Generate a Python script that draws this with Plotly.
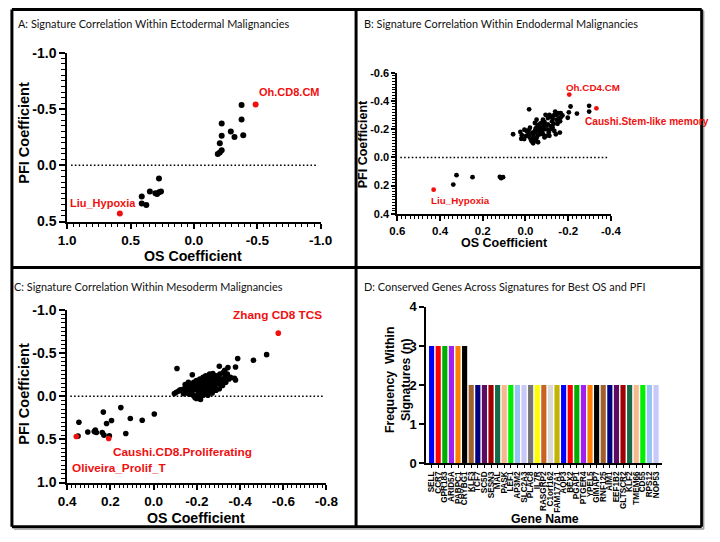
import plotly.graph_objects as go

# ---------------- DATA ----------------
# Panel A (Ectodermal)
a_os = [-0.376, -0.376, -0.389, -0.291, -0.320, -0.219, -0.219, -0.204, -0.219, -0.204, -0.188,
        0.276, 0.260, 0.276, 0.291, 0.304, 0.348, 0.412, 0.412, 0.376]
a_pfi = [-0.534, -0.405, -0.267, -0.299, -0.250, -0.371, -0.261, -0.195, -0.132, -0.112, -0.100,
         0.118, 0.233, 0.241, 0.256, 0.250, 0.233, 0.279, 0.339, 0.353]
a_hl_names = ["Oh.CD8.CM", "Liu_Hypoxia"]
a_hl_os = [-0.487, 0.585]
a_hl_pfi = [-0.540, 0.428]

# Panel B (Endodermal)
b_os = [-0.298, -0.298, -0.241, -0.211, -0.203, -0.198, -0.161, -0.017,
        0.338, 0.323, 0.248, 0.120, 0.114, 0.105,
        0.058, 0.024, 0.020, 0.017, 0.005, -0.006, -0.014, -0.018, -0.024, -0.029, -0.036, -0.044,
        -0.052, -0.059, -0.036, -0.044, -0.048, -0.056, -0.064, -0.070, -0.077, -0.082, -0.089,
        -0.067, -0.074, -0.082, -0.089, -0.097, -0.102, -0.109, -0.112, -0.120, -0.124, -0.127,
        -0.135, -0.139, -0.145, -0.150, -0.158, -0.165, -0.162, -0.105, -0.094, -0.112, -0.120,
        -0.127, -0.135, -0.142, -0.097, -0.085, -0.076, -0.062, -0.048, -0.032, -0.021, -0.014,
        -0.003, 0.006, -0.036, -0.056, -0.067, -0.089, -0.105, -0.117, -0.132, -0.145, -0.155,
        -0.165, -0.173, -0.044, -0.052]
b_pfi = [-0.367, -0.326, -0.312, -0.362, -0.321, -0.282, -0.177, -0.342,
         0.193, 0.126, 0.140, 0.138, 0.147, 0.140,
         -0.165, -0.181, -0.133, -0.158, -0.197, -0.188, -0.165, -0.147, -0.131, -0.115, -0.101, -0.119,
         -0.138, -0.108, -0.165, -0.188, -0.206, -0.222, -0.234, -0.211, -0.188, -0.165, -0.142,
         -0.165, -0.245, -0.268, -0.252, -0.229, -0.200, -0.177, -0.154, -0.222, -0.257, -0.280,
         -0.303, -0.326, -0.268, -0.239, -0.280, -0.314, -0.257, -0.280, -0.303, -0.303, -0.291,
         -0.211, -0.188, -0.165, -0.154, -0.222, -0.211, -0.200, -0.181, -0.177, -0.211, -0.193,
         -0.154, -0.131, -0.138, -0.154, -0.188, -0.200, -0.234, -0.200, -0.239, -0.303, -0.314,
         -0.284, -0.298, -0.245, -0.268]
b_hl_names = ["Oh.CD4.CM", "Caushi.Stem-like memory", "Liu_Hypoxia"]
b_hl_os = [-0.205, -0.332, 0.430]
b_hl_pfi = [-0.447, -0.349, 0.229]

# Panel C (Mesoderm)
c_os = [-0.523, -0.462, -0.389, -0.379, -0.374, -0.379, -0.344, -0.329, -0.304, -0.108, -0.179,
        0.346, 0.350, 0.305, 0.275, 0.270, 0.265, 0.233, 0.218, 0.195, 0.238, 0.230, 0.205,
        0.152, 0.108, 0.129, 0.053, -0.003,
        -0.096, -0.105, -0.116, -0.123, -0.131, -0.138, -0.146, -0.153, -0.158, -0.164, -0.168,
        -0.171, -0.176, -0.180, -0.183, -0.186, -0.191, -0.194, -0.198, -0.202, -0.206, -0.209,
        -0.214, -0.217, -0.221, -0.224, -0.229, -0.232, -0.235, -0.238, -0.241, -0.244, -0.247,
        -0.250, -0.253, -0.256, -0.259, -0.262, -0.266, -0.269, -0.274, -0.277, -0.281, -0.286,
        -0.289, -0.293, -0.296, -0.301, -0.304, -0.307, -0.311, -0.316, -0.319, -0.322, -0.326,
        -0.331, -0.334, -0.341, -0.349, -0.356, -0.191, -0.183, -0.198, -0.217, -0.229, -0.244,
        -0.251, -0.271, -0.274, -0.138, -0.150, -0.165, -0.176, -0.214, -0.221, -0.236, -0.259,
        -0.146, -0.161, -0.203, -0.251, -0.289, -0.304, -0.266, -0.229, -0.244]
c_pfi = [-0.481, -0.417, -0.436, -0.338, -0.207, -0.188, -0.331, -0.301, -0.346, -0.320, -0.248,
         0.301, 0.462, 0.414, 0.410, 0.391, 0.421, 0.184, 0.316, 0.282, 0.421, 0.451, 0.459,
         0.132, 0.259, 0.432, 0.278, 0.207,
         -0.030, -0.045, -0.060, -0.075, -0.068, -0.083, -0.075, -0.098, -0.060, -0.113, -0.086,
         -0.143, -0.060, -0.124, -0.098, -0.162, -0.075, -0.135, -0.180, -0.105, -0.060, -0.150,
         -0.199, -0.124, -0.098, -0.173, -0.218, -0.143, -0.075, -0.188, -0.237, -0.162, -0.105,
         -0.211, -0.143, -0.086, -0.256, -0.180, -0.124, -0.218, -0.263, -0.162, -0.105, -0.199,
         -0.237, -0.143, -0.180, -0.218, -0.086, -0.256, -0.162, -0.199, -0.124, -0.274, -0.180,
         -0.226, -0.162, -0.256, -0.199, -0.218, 0.015, -0.011, 0.026, 0.038, -0.011, -0.030,
         -0.049, -0.038, -0.060, -0.030, -0.038, -0.023, -0.030, -0.049, -0.011, -0.060, -0.049,
         -0.135, -0.162, -0.011, -0.011, -0.068, -0.150, -0.075, -0.105, -0.124]
c_hl_names = ["Zhang CD8 TCS", "Caushi.CD8.Proliferating", "Oliveira_Prolif_T"]
c_hl_os = [-0.577, 0.208, 0.358]
c_hl_pfi = [-0.730, 0.489, 0.466]

# Panel D (conserved genes)
genes = ["SELL", "CCR7", "GPR183", "ARID5A", "PABPC1", "CRYBG1", "KLF3", "TCF7", "SC5D", "SESN3",
         "MAL", "PASK", "LEF1", "AP3M2", "SLC2A3", "PLAC8", "IL7R", "RASGRP2", "C1orf162", "FAM177A1",
         "AQP3", "BEX2", "PGAP1", "PTGER4", "YPEL5", "GIMAP7", "RNF125", "AIM1", "EEF1B2", "GLTSCR2",
         "KLF2", "TMEM66", "CD55", "RPS12", "NOP53"]
freq = [3, 3, 3, 3, 3, 3] + [2] * 29
palette = ["#0000FF", "#FF0000", "#00B000", "#A020F0", "#FF8000", "#000000", "#A0602D", "#000080",
           "#5E0A63", "#A00000", "#146B48", "#F6B98C", "#00F000", "#99C2F5", "#C8C8FA", "#767676",
           "#FFFF00", "#C8641E", "#D9D9D9", "#C2B400"]

# tick labels
ticks_a_x = [1.0, 0.5, 0.0, -0.5, -1.0]
ticks_a_y = [-1.0, -0.5, 0.0, 0.5]
ticks_b_x = [0.6, 0.4, 0.2, 0.0, -0.2, -0.4]
ticks_b_y = [-0.6, -0.4, -0.2, 0.0, 0.2, 0.4]
ticks_c_x = [0.4, 0.2, 0.0, -0.2, -0.4, -0.6, -0.8]
ticks_c_y = [-1.0, -0.5, 0.0, 0.5, 1.0]
ticks_d_y = [0, 1, 2, 3, 4]


def lab(v):
    s = "%.1f" % abs(v)
    return ("-" + s) if v < -1e-9 else s


W, H = 720, 542
def PX(p):
    return p / W
def PY(p):
    return 1 - p / H

BOLD = "Liberation Sans"
RED = "#F01010"
CLEAR = "rgba(0,0,0,0)"

fig = go.Figure()

def scatter(xs, ys, xa, ya, color, size):
    fig.add_trace(go.Scatter(x=xs, y=ys, mode="markers", xaxis=xa, yaxis=ya,
                             marker=dict(color=color, size=size, line=dict(width=0)),
                             showlegend=False, hoverinfo="skip"))

scatter(a_os, a_pfi, "x", "y", "black", 6)
scatter(a_hl_os, a_hl_pfi, "x", "y", RED, 6)
scatter(b_os, b_pfi, "x2", "y2", "black", 4.8)
scatter(b_hl_os, b_hl_pfi, "x2", "y2", RED, 4.8)
scatter(c_os, c_pfi, "x3", "y3", "black", 5.6)
scatter(c_hl_os, c_hl_pfi, "x3", "y3", RED, 5.6)

fig.add_trace(go.Bar(x=genes, y=freq, xaxis="x4", yaxis="y4",
                     marker=dict(color=[palette[i % len(palette)] for i in range(len(genes))],
                                 line=dict(width=0)),
                     showlegend=False, hoverinfo="skip"))


def num_axis(domain, rng, tvals, fsize, anchor, mdt, tlen=6, mlen=4):
    return dict(domain=domain, range=rng, anchor=anchor, showgrid=False, zeroline=False,
                showline=True, linecolor="black", linewidth=2,
                ticks="outside", ticklen=tlen, tickwidth=2, tickcolor="black",
                tickmode="array", tickvals=tvals, ticktext=[lab(v) for v in tvals],
                tickfont=dict(family=BOLD, size=fsize, color="black", weight="bold"),
                minor=dict(ticks="outside", dtick=mdt, ticklen=mlen, tickwidth=1.4,
                           tickcolor="black"))


layout = dict(width=W, height=H, margin=dict(l=0, r=0, t=0, b=0),
              paper_bgcolor="white", plot_bgcolor=CLEAR, bargap=0.22)

layout["xaxis"] = num_axis([PX(60), PX(321)], [1.0, -1.0], ticks_a_x, 13.5, "y", 0.05, 5, 3.5)
layout["yaxis"] = num_axis([PY(220), PY(46)], [0.5, -1.0], ticks_a_y, 14, "x", 0.05)
layout["xaxis2"] = num_axis([PX(400), PX(620)], [0.6, -0.4], ticks_b_x, 11.5, "y2", 0.02, 5, 3)
layout["yaxis2"] = num_axis([PY(212), PY(67)], [0.4, -0.6], ticks_b_y, 11, "x2", 0.02, 4, 3)
layout["xaxis3"] = num_axis([PX(60), PX(327)], [0.4, -0.8], ticks_c_x, 13.5, "y3", 0.02, 5, 3.5)
layout["yaxis3"] = num_axis([PY(489), PY(311)], [1.0, -1.0], ticks_c_y, 14, "x3", 0.05)

layout["xaxis4"] = dict(domain=[PX(430), PX(673)], range=[-0.78, 34.96], anchor="y4",
                        type="category", showgrid=False, showline=True, linecolor="black",
                        linewidth=2, ticks="outside", ticklen=3, tickwidth=1.2,
                        tickcolor="black", tickangle=-90, tickmode="array",
                        tickvals=genes, ticktext=genes,
                        tickfont=dict(family=BOLD, size=8.2, color="black", weight="bold"))
layout["yaxis4"] = dict(domain=[PY(469), PY(308)], range=[0, 4], anchor="x4", showgrid=False,
                        zeroline=False, showline=True, linecolor="black", linewidth=2,
                        ticks="outside", ticklen=5, tickwidth=2, tickcolor="black",
                        tickmode="array", tickvals=ticks_d_y, ticktext=[str(v) for v in ticks_d_y],
                        tickfont=dict(family=BOLD, size=13, color="black", weight="bold"))

shapes = []
# dotted zero lines
for xr, yr, x0, x1 in [("x", "y", 0.97, -0.98), ("x2", "y2", 0.586, -0.39), ("x3", "y3", 0.386, -0.79)]:
    shapes.append(dict(type="line", xref=xr, yref=yr, x0=x0, x1=x1, y0=0, y1=0, layer="below",
                       line=dict(color="black", width=1.6, dash="1.6px,2.2px")))
# panel frames
frame = dict(color="black", width=3)
for x0, y0, x1, y1 in [(3, 1.5, 713.5, 1.5), (3, 534.5, 713.5, 534.5), (3, 1.5, 3, 534.5),
                       (713.5, 1.5, 713.5, 534.5), (357.5, 1.5, 357.5, 534.5),
                       (3, 267.5, 713.5, 267.5)]:
    shapes.append(dict(type="line", xref="paper", yref="paper", x0=PX(x0), x1=PX(x1),
                       y0=PY(y0), y1=PY(y1), line=frame))
shapes.append(dict(type="line", xref="paper", yref="paper", x0=PX(715.5), x1=PX(715.5),
                   y0=PY(537), y1=PY(3), line=dict(color="#9a9a9a", width=1.5)))
shapes.append(dict(type="line", xref="paper", yref="paper", x0=PX(5), x1=PX(715.5),
                   y0=PY(536.8), y1=PY(536.8), line=dict(color="#9a9a9a", width=1.5)))
layout["shapes"] = shapes

ann = []
TITLE_FONT = dict(family="Lato", size=10.9, color="#111111")
for txt, x, y in [("A: Signature Correlation Within Ectodermal Malignancies", 8, 15.5),
                  ("B: Signature Correlation Within Endodermal Malignancies", 365, 15.5),
                  ("C: Signature Correlation Within Mesoderm Malignancies", 4.5, 286.5),
                  ("D: Conserved Genes Across Signatures for Best OS and PFI", 365, 286.5)]:
    ann.append(dict(text=txt, xref="paper", yref="paper", x=PX(x), y=PY(y), xanchor="left",
                    yanchor="middle", showarrow=False, font=TITLE_FONT, bgcolor=CLEAR,
                    borderpad=0))

def axtitle(txt, x, y, size, angle=0):
    ann.append(dict(text=txt, xref="paper", yref="paper", x=PX(x), y=PY(y), xanchor="center",
                    yanchor="middle", showarrow=False, textangle=angle, bgcolor=CLEAR,
                    borderpad=0,
                    font=dict(family=BOLD, size=size, color="black", weight="bold")))

axtitle("PFI Coefficient", 16, 129, 14.5, -90)
axtitle("OS Coefficient", 190, 256, 14.2)
axtitle("PFI Coefficient", 365, 140, 12.5, -90)
axtitle("OS Coefficient", 510, 242, 12.5)
axtitle("PFI Coefficient", 16, 398, 14.5, -90)
axtitle("OS Coefficient", 193, 525, 14.2)
axtitle("Frequency  Within<br>Signatures (n)", 400, 383, 12.3, -90)
axtitle("Gene Name", 552, 527, 12.3)

def redlabel(txt, xr, yr, x, y, size, anchor="center"):
    ann.append(dict(text=txt, xref=xr, yref=yr, x=x, y=y, xanchor=anchor, yanchor="middle",
                    showarrow=False, bgcolor=CLEAR, borderpad=0,
                    font=dict(family=BOLD, size=size, color=RED, weight="bold")))

redlabel(a_hl_names[0], "x", "y", -0.755, -0.647, 11)
redlabel(a_hl_names[1], "x", "y", 0.716, 0.336, 11)
redlabel(b_hl_names[0], "x2", "y2", -0.318, -0.497, 9.8)
redlabel(b_hl_names[1], "x2", "y2", -0.273, -0.255, 10.1, "left")
redlabel(b_hl_names[2], "x2", "y2", 0.305, 0.303, 9.8)
redlabel(c_hl_names[0], "x3", "y3", -0.575, -0.944, 11.8)
redlabel(c_hl_names[1], "x3", "y3", -0.135, 0.644, 11.8)
redlabel(c_hl_names[2], "x3", "y3", 0.157, 0.831, 11.8)
layout["annotations"] = ann

fig.update_layout(**layout)
fig.write_html("out.html")
